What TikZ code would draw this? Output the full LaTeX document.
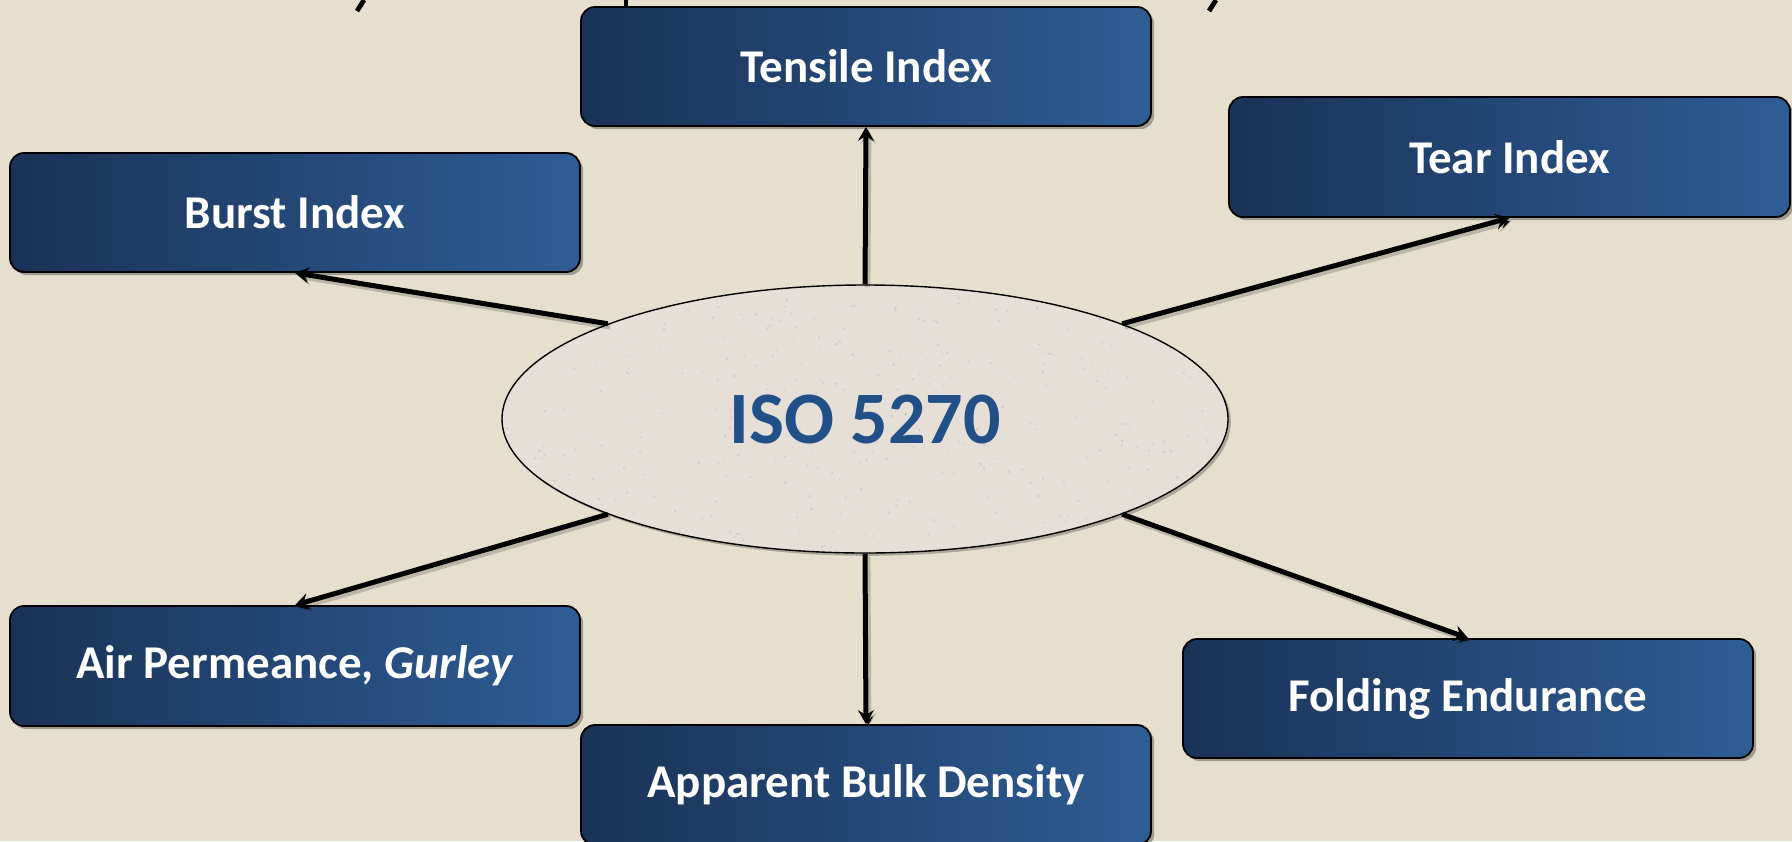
\documentclass[tikz,border=0pt]{standalone}
\usepackage{fontspec}
\setmainfont{Carlito}
\usetikzlibrary{arrows.meta,shapes.geometric,shadows}

\definecolor{paper}{RGB}{230,223,206}
\definecolor{ovalfill}{RGB}{229,223,215}
\definecolor{boxleft}{RGB}{26,50,87}
\definecolor{boxright}{RGB}{46,93,149}
\definecolor{isoblue}{RGB}{33,79,136}

\tikzset{
  topic/.style={rectangle, rounded corners=7pt, draw=black, line width=0.9pt,
    left color=boxleft, right color=boxright, text=white,
    font=\fontsize{23.5}{28}\selectfont\bfseries, inner sep=0pt,
    drop shadow={shadow xshift=1.6pt, shadow yshift=-1.6pt, fill=black, opacity=0.3}},
  hub/.style={ellipse, draw=black, line width=0.7pt, fill=ovalfill,
    minimum width=363pt, minimum height=134pt, inner sep=0pt,
    drop shadow={shadow xshift=1.4pt, shadow yshift=-1.4pt, fill=black, opacity=0.25}},
  conn/.style={line width=2.5pt, -{Stealth[length=7pt,width=8pt,inset=2.5pt]},
    preaction={draw=black, draw opacity=0.18, line width=3pt,
      transform canvas={xshift=1.2pt,yshift=-1.4pt}}},
  stub/.style={line width=2.4pt}
}

\begin{document}
\begin{tikzpicture}[x=0.5pt,y=-0.5pt]
  % page frame and background
  \useasboundingbox (0,0) rectangle (1792,841);
  \fill[paper] (0,0) rectangle (1792,841);
  \clip (0,0) rectangle (1792,841);

  % remains of the heading above the diagram
  \draw[stub] (364,0) -- (357,11);
  \draw[stub] (1216,0) -- (1209,11);
  \draw[stub] (626,0) -- (626,7);

  % central standard with a paper-grain texture
  \node[hub] (iso) at (865,419) {};
  \begin{scope}
    \clip (865,419) ellipse [x radius=362, y radius=133];
    \pgfmathsetseed{5270}
    \foreach \k in {1,...,520}{
      \pgfmathsetmacro{\px}{500+730*rnd}
      \pgfmathsetmacro{\py}{285+268*rnd}
      \pgfmathsetmacro{\pr}{0.5+1.1*rnd}
      \fill[black!50, opacity=0.18] (\px,\py) circle [radius=\pr];
    }
  \end{scope}
  \node[text=isoblue, font=\fontsize{37}{44}\selectfont\bfseries] (isolabel) at (iso.center) {ISO 5270};

  % properties
  \node[topic, minimum width=285pt, minimum height=59.5pt] (tensile) at (866,66.5) {Tensile Index};
  \node[topic, minimum width=285pt, minimum height=59.5pt] (burst) at (295,212.5) {Burst Index};
  \node[topic, minimum width=280.5pt, minimum height=60pt] (tear) at (1509.5,157) {Tear Index};
  \node[topic, minimum width=285pt, minimum height=60pt] (air) at (295,666) {Air Permeance, \textit{Gurley}};
  \node[topic, minimum width=285pt, minimum height=60pt] (bulk) at (866,785) {Apparent Bulk Density};
  \node[topic, minimum width=285pt, minimum height=59.5pt] (folding) at (1468,698.5) {Folding Endurance};

  % connectors
  \draw[conn] (iso.north) -- (tensile.south);
  \draw[conn] (iso.north west) -- (burst.south);
  \draw[conn] (iso.north east) -- (tear.south);
  \draw[conn] (iso.south west) -- (air.north);
  \draw[conn] (iso.south) -- (bulk.north);
  \draw[conn] (iso.south east) -- (folding.north);
\end{tikzpicture}
\end{document}
